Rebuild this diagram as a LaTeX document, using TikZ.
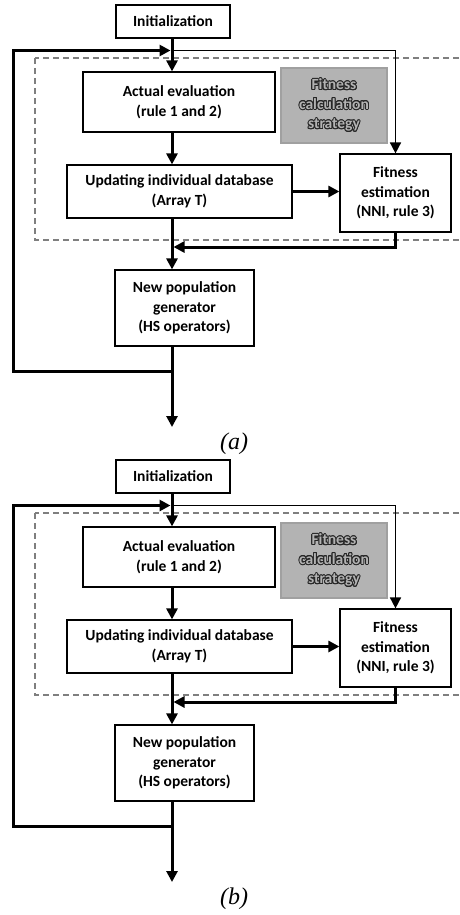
\documentclass[tikz,border=0pt]{standalone}
\usepackage{fontspec}
\usepackage[copies]{contour}
\usetikzlibrary{arrows.meta}
\newfontfamily\boxfont{Carlito}
\newfontfamily\capfont{Liberation Serif}
\contourlength{0.9pt}
\contournumber{16}
\definecolor{stratfill}{HTML}{B3B3B3}
\definecolor{stratedge}{HTML}{A0A0A0}
\definecolor{dashgray}{HTML}{7F7F7F}
\newcommand{\outlined}[1]{\contour{black!85}{\textcolor{stratfill}{#1}}}

\tikzset{
  box/.style={draw=black, line width=1.2pt, fill=white, inner sep=0pt,
    align=center, font=\boxfont\bfseries\fontsize{15.5}{19.5}\selectfont},
  stratbox/.style={box, draw=stratedge, fill=stratfill},
  flow/.style={line width=3pt, line join=miter,
    -{Triangle[length=11pt,width=11pt]}},
  thinflow/.style={flow, line width=1.7pt},
  dashbox/.style={draw=dashgray, line width=1.9pt, dash pattern=on 6pt off 4pt},
  caption/.style={font=\capfont\itshape\fontsize{24}{24}\selectfont, inner sep=0pt}
}

\begin{document}
\begin{tikzpicture}[x=1pt,y=-1pt]
\useasboundingbox (0,0) rectangle (459,915);
\foreach \p/\dy in {a/0,b/455}{
\begin{scope}[shift={(0,\dy)}]
  % fitness calculation strategy frame
  \draw[dashbox] (35,58) rectangle (480,240);
  % process boxes
  \node[box, minimum width=114pt, minimum height=33pt] (init\p) at (173,21.5) {Initialization};
  \node[box, minimum width=192pt, minimum height=60pt] (eval\p) at (179,102) {Actual evaluation\\(rule 1 and 2)};
  \node[stratbox, minimum width=106pt, minimum height=75pt] (strat\p) at (334,105.5)
    {\outlined{Fitness}\\\outlined{calculation}\\\outlined{strategy}};
  \node[box, minimum width=225pt, minimum height=53pt] (upd\p) at (179.5,191.5) {Updating individual database\\(Array T)};
  \node[box, minimum width=111pt, minimum height=78pt] (est\p) at (395.5,193) {Fitness\\estimation\\(NNI, rule 3)};
  \node[box, minimum width=139pt, minimum height=76pt] (gen\p) at (184.5,308) {New population\\generator\\(HS operators)};
  % junction points
  \coordinate (top\p) at (172,50.5);
  \coordinate (corner\p) at (13,50.5);
  \coordinate (ret\p) at (173.5,247);
  \coordinate (low\p) at (172,371);
  \coordinate (out\p) at (172,427);
  \node[caption] (cap\p) at (234,444) {(\p)};
  % connectors
  \draw[flow] (init\p.south -| top\p) -- (eval\p.north -| top\p);
  \draw[flow] (eval\p.south -| top\p) -- (upd\p.north -| top\p);
  \draw[flow] (upd\p.south -| top\p) -- (gen\p.north -| top\p);
  \draw[flow] (upd\p.east) -- (est\p.west |- upd\p.east);
  \draw[thinflow] (top\p) -| (est\p.north);
  \draw[flow] (est\p.south) |- (ret\p);
  \draw[flow] (gen\p.south -| low\p) -- (out\p);
  \draw[flow] (low\p) -| (corner\p) -- ([xshift=-1.5pt]top\p);
\end{scope}}
\end{tikzpicture}
\end{document}
